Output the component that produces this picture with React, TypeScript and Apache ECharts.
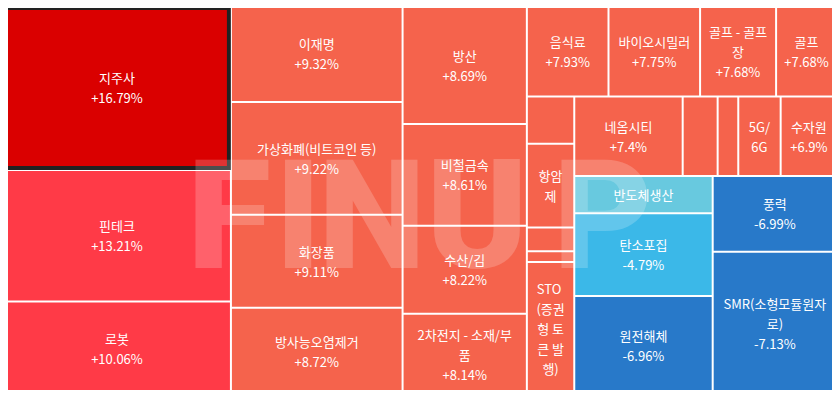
import React, { useEffect, useRef } from 'react';
import * as echarts from 'echarts';

// Theme names, in layout order (sorted by daily change)
const themeNames = [
  '지주사', '핀테크', '로봇',
  '이재명', '가상화폐(비트코인 등)', '화장품', '방사능오염제거',
  '방산', '비철금속', '수산/김', '2차전지 - 소재/부품',
  '음식료', '바이오시밀러', '골프 - 골프장', '골프',
  '기타 테마 1', '항암제', '기타 테마 2', '기타 테마 3', 'STO (증권형 토큰 발행)',
  '네옴시티', '기타 테마 4', '기타 테마 5', '5G/6G', '수자원',
  '반도체생산', '탄소포집', '원전해체',
  '풍력', 'SMR(소형모듈원자로)',
];

// Size weight of each theme (tile area)
const themeWeights = [
  3739, 2998, 2132,
  1648, 1935, 1597, 1499,
  1467, 1264, 1094, 1011,
  740, 830, 689, 552,
  224, 397, 112, 51, 631,
  862, 278, 164, 337, 448,
  516, 1145, 1370,
  941, 1781,
];

// Daily change (%) of each theme
const themeChanges = [
  16.79, 13.21, 10.06,
  9.32, 9.22, 9.11, 8.72,
  8.69, 8.61, 8.22, 8.14,
  7.93, 7.75, 7.68, 7.68,
  7.66, 7.62, 7.55, 7.5, 7.45,
  7.4, 7.3, 7.1, 6.95, 6.9,
  -3.2, -4.79, -6.96,
  -6.99, -7.13,
];

// Tiles whose label is not drawn, and tiles that only show their name
const hiddenLabelThemes = ['기타 테마 1', '기타 테마 2', '기타 테마 3', '기타 테마 4', '기타 테마 5'];
const nameOnlyThemes = ['항암제', 'STO (증권형 토큰 발행)', '5G/6G', '반도체생산'];
const narrowLabelThemes = ['STO (증권형 토큰 발행)'];
const highlightedTheme = '지주사';

const watermarkLetters = ['F', 'I', 'N', 'U', 'P'];
const watermarkCenters = [229, 298, 372, 477, 603];

function colorFor(change: number): string {
  if (change >= 15) return '#da0000';
  if (change >= 10) return '#ff3a47';
  if (change >= 0) return '#f5634c';
  if (change > -4) return '#68c9df';
  if (change > -6) return '#3bb8e8';
  return '#2879c9';
}

function fmtChange(change: number): string {
  return (change > 0 ? '+' : '') + String(change) + '%';
}

export default function App() {
  const ref = useRef<HTMLDivElement>(null);

  useEffect(() => {
    if (!ref.current) return;
    const chart = echarts.init(ref.current, null, { renderer: 'svg' });

    const data = themeNames.map((name, i) => {
      const item: any = {
        name,
        value: themeWeights[i],
        itemStyle: { color: colorFor(themeChanges[i]) },
      };
      if (name === highlightedTheme) {
        item.itemStyle.borderColor = '#222222';
        item.itemStyle.borderWidth = 4;
      }
      if (hiddenLabelThemes.includes(name)) {
        item.label = { show: false };
      } else if (narrowLabelThemes.includes(name)) {
        item.label = { padding: [5, 7] };
      }
      return item;
    });

    chart.setOption({
      animation: false,
      backgroundColor: '#f2f4f8',
      tooltip: { show: false },
      series: [
        {
          type: 'treemap',
          left: 3,
          top: 6,
          width: 834,
          height: 389,
          sort: false,
          roam: false,
          nodeClick: false,
          silent: true,
          breadcrumb: { show: false },
          levels: [
            { itemStyle: { borderWidth: 0, gapWidth: 0 } },
            { itemStyle: { borderWidth: 1, borderColor: '#ffffff', gapWidth: 0 } },
          ],
          label: {
            show: true,
            position: 'inside',
            color: '#ffffff',
            fontSize: 13,
            lineHeight: 20,
            fontFamily: '"Noto Sans CJK KR", "Noto Sans", sans-serif',
            overflow: 'break',
            padding: 5,
            formatter: (p: any) => {
              const idx = themeNames.indexOf(p.name);
              if (nameOnlyThemes.includes(p.name)) return p.name;
              return p.name + '\n' + fmtChange(themeChanges[idx]);
            },
          },
          emphasis: { disabled: true },
          data,
        },
      ],
      graphic: watermarkLetters.map((ch, i) => ({
        type: 'text',
        silent: true,
        z: 100,
        x: watermarkCenters[i],
        y: 215,
        style: {
          text: ch,
          fill: 'rgba(255,255,255,0.2)',
          font: '900 153px Roboto, "Noto Sans", sans-serif',
          textAlign: 'center',
          textVerticalAlign: 'middle',
        },
      })),
    });

    return () => chart.dispose();
  }, []);

  return <div ref={ref} style={{ width: 840, height: 398, margin: -8 }} />;
}
